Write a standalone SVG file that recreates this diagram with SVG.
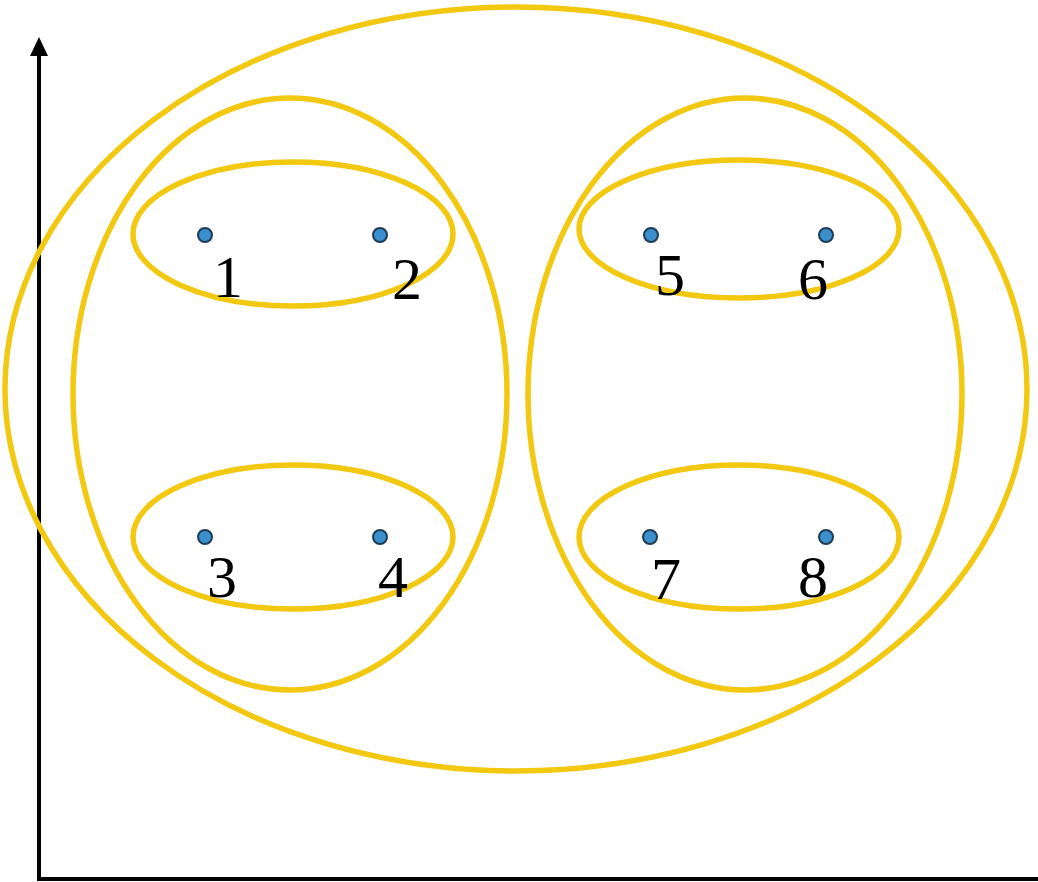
<svg xmlns="http://www.w3.org/2000/svg" width="1038" height="882" viewBox="0 0 1038 882">
<style>
.c{fill:none;stroke:#F2C811;stroke-width:5.5}
.p{fill:#3A8FCC;stroke:#1F3C55;stroke-width:2}
.t{font-family:"Liberation Serif",serif;font-size:60px;fill:#000;text-anchor:middle}
.ax{stroke:#000;stroke-width:4;fill:none}
</style>
<g id="axes">
<path class="ax" d="M39,879 L39,52"/>
<path d="M39,37 L30,56 L48,56 Z" fill="#000"/>
<path class="ax" d="M37,879 L1038,879"/>
</g>
<g id="clusters">
<ellipse id="c-all" class="c" cx="516" cy="389" rx="511" ry="382"/>
<ellipse id="c-left" class="c" cx="290" cy="394" rx="217" ry="296"/>
<ellipse id="c-right" class="c" cx="745" cy="394" rx="217" ry="296"/>
<ellipse id="c-12" class="c" cx="293" cy="234" rx="160" ry="72"/>
<ellipse id="c-34" class="c" cx="293" cy="537" rx="160" ry="72"/>
<ellipse id="c-56" class="c" cx="739" cy="229" rx="160" ry="69"/>
<ellipse id="c-78" class="c" cx="739" cy="537" rx="160" ry="72"/>
</g>
<g id="n1"><circle class="p" cx="205" cy="235" r="7"/><text class="t" x="228" y="297">1</text></g>
<g id="n2"><circle class="p" cx="380" cy="235" r="7"/><text class="t" x="407" y="299">2</text></g>
<g id="n3"><circle class="p" cx="205" cy="537" r="7"/><text class="t" x="222" y="597">3</text></g>
<g id="n4"><circle class="p" cx="380" cy="537" r="7"/><text class="t" x="393" y="597">4</text></g>
<g id="n5"><circle class="p" cx="651" cy="235" r="7"/><text class="t" x="670" y="295">5</text></g>
<g id="n6"><circle class="p" cx="826" cy="235" r="7"/><text class="t" x="813" y="299">6</text></g>
<g id="n7"><circle class="p" cx="650" cy="537" r="7"/><text class="t" x="666" y="599">7</text></g>
<g id="n8"><circle class="p" cx="826" cy="537" r="7"/><text class="t" x="813" y="597">8</text></g>
</svg>
